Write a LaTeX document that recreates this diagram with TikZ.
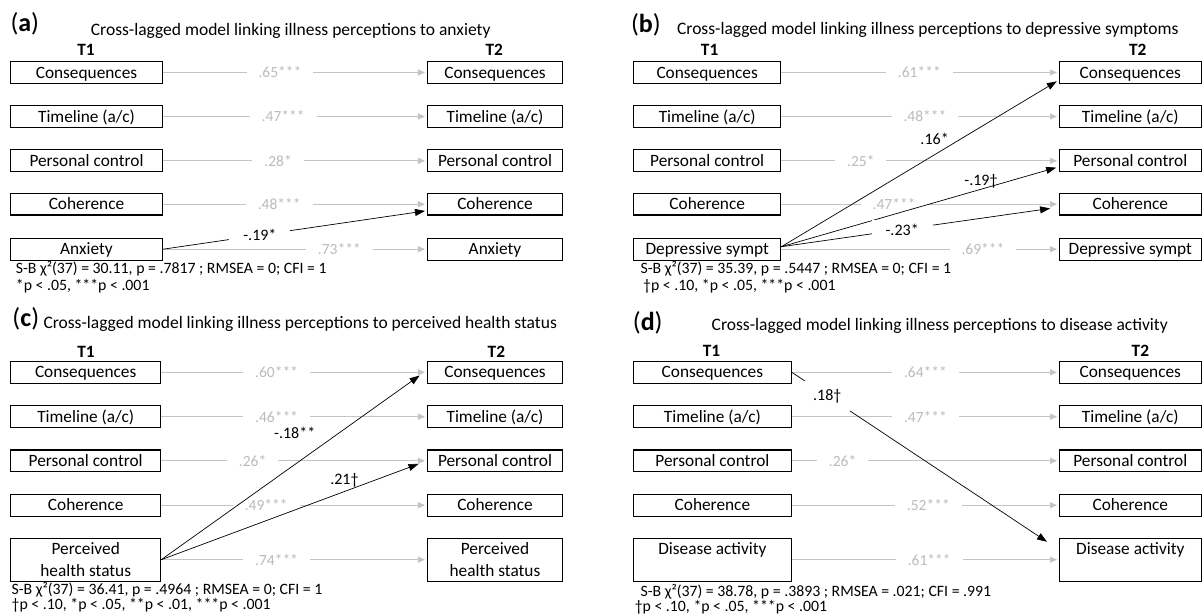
\documentclass[tikz,border=0pt]{standalone}
\usepackage{fontspec}
\setmainfont{Carlito}
\usetikzlibrary{arrows.meta}
\definecolor{lg}{HTML}{C4C4C4}
\definecolor{lgt}{HTML}{BBBBBB}
\begin{document}
\begin{tikzpicture}[x=1pt,y=-1pt,
  box/.style={draw, line width=1.1pt, inner sep=0pt, font=\fontsize{17.3}{21.7}\selectfont},
  sbox/.style={box, minimum height=21.7pt, text height=11.2pt, text depth=0pt},
  tbox/.style={box, minimum height=42.7pt, align=center},
  gline/.style={draw=lg, line width=1pt, -{Triangle[length=7pt,width=6pt]}, shorten >=2pt},
  glbl/.style={fill=white, text=lgt, inner xsep=12pt, inner ysep=1pt, font=\fontsize{15.5}{18}\selectfont},
  bline/.style={draw=black, line width=0.7pt, -{Triangle[length=10pt,width=7pt]}},
  blbl/.style={text=black, inner sep=1pt, font=\fontsize{16}{18}\selectfont},
  bglbl/.style={blbl, fill=white, inner xsep=14pt, inner ysep=4pt},
  tlbl/.style={anchor=base, inner sep=0pt, font=\bfseries\fontsize{17.3}{20}\selectfont},
  panel/.style={anchor=base west, inner sep=0pt, font=\fontsize{26}{30}\selectfont},
  ttl/.style={anchor=base west, inner sep=0pt, font=\fontsize{17.5}{20}\selectfont},
  note/.style={anchor=base west, inner sep=0pt, font=\fontsize{15.8}{18}\selectfont}]
\useasboundingbox (0,0) rectangle (1203,615);
\fill[white] (0,0) rectangle (1203,615);

%% ---------------- Panel (a)
\node[panel] (pa) at (10.3,32) {(\textbf{a})};
\node[ttl] (ta) at (90.7,35.7) {Cross-lagged model linking illness perceptions to anxiety};
\node[tlbl] (a0) at (86,55.5) {T1};
\node[tlbl] (A0) at (494.3,55.5) {T2};
\node[sbox, minimum width=152pt] (a1) at (86.5,72.5) {Consequences};
\node[sbox, minimum width=152pt] (a2) at (86.5,116.5) {Timeline (a/c)};
\node[sbox, minimum width=152pt] (a3) at (86.5,160.8) {Personal control};
\node[sbox, minimum width=152pt] (a4) at (86.5,204.2) {Coherence};
\node[sbox, minimum width=152pt] (a5) at (86.5,249.2) {Anxiety};
\node[sbox, minimum width=135pt] (A1) at (495,72.5) {Consequences};
\node[sbox, minimum width=135pt] (A2) at (495,116.5) {Timeline (a/c)};
\node[sbox, minimum width=135pt] (A3) at (495,160.8) {Personal control};
\node[sbox, minimum width=135pt] (A4) at (495,204.2) {Coherence};
\node[sbox, minimum width=135pt] (A5) at (495,249.2) {Anxiety};
\draw[gline] (a1.east) -- (A1.west) node[glbl,pos=0.443] {.65***};
\draw[gline] (a2.east) -- (A2.west) node[glbl,pos=0.455] {.47***};
\draw[gline] (a3.east) -- (A3.west) node[glbl,pos=0.436] {.28*};
\draw[gline] (a4.east) -- (A4.west) node[glbl,pos=0.44] {.48***};
\draw[gline] (a5.east) -- (A5.west) node[glbl,pos=0.668] {.73***};
\draw[bline, shorten >=2pt] (a5.east) -- ([yshift=-6.5pt]A4.west) node[bglbl,pos=0.367] {-.19*};
\node[note] (na1) at (15.7,273.3) {S-B χ²(37) = 30.11, p = .7817 ; RMSEA = 0; CFI = 1};
\node[note] (na2) at (15.7,290.7) {*p < .05, ***p < .001};

%% ---------------- Panel (b)
\node[panel] (pb) at (630.8,33) {(\textbf{b})};
\node[ttl] (tb) at (676.9,35) {Cross-lagged model linking illness perceptions to depressive symptoms};
\node[tlbl] (b0) at (709.6,55.5) {T1};
\node[tlbl] (B0) at (1137.7,55.5) {T2};
\node[sbox, minimum width=147.3pt] (b1) at (707.2,72.5) {Consequences};
\node[sbox, minimum width=147.3pt] (b2) at (707.2,116.5) {Timeline (a/c)};
\node[sbox, minimum width=147.3pt] (b3) at (707.2,160.8) {Personal control};
\node[sbox, minimum width=147.3pt] (b4) at (707.2,204.2) {Coherence};
\node[sbox, minimum width=147.3pt] (b5) at (707.2,249.2) {Depressive sympt};
\node[sbox, minimum width=141.5pt] (B1) at (1130.3,72.5) {Consequences};
\node[sbox, minimum width=141.5pt] (B2) at (1130.3,116.5) {Timeline (a/c)};
\node[sbox, minimum width=141.5pt] (B3) at (1130.3,160.8) {Personal control};
\node[sbox, minimum width=141.5pt] (B4) at (1130.3,204.2) {Coherence};
\node[sbox, minimum width=141.5pt] (B5) at (1130.3,249.2) {Depressive sympt};
\draw[gline] (b1.east) -- (B1.west) node[glbl,pos=0.497] {.61***};
\draw[gline] (b2.east) -- (B2.west) node[glbl,pos=0.517] {.48***};
\draw[gline] (b3.east) -- (B3.west) node[glbl,pos=0.286] {.25*};
\draw[gline] (b4.east) -- (B4.west) node[glbl,pos=0.406] {.47***};
\draw[gline] (b5.east) -- (B5.west) node[glbl,pos=0.726] {.69***};
\draw[bline, shorten >=2.5pt] ([yshift=2.5pt]b5.east) -- ([yshift=-7.5pt]B1.west);
\draw[bline, shorten >=3pt] ([yshift=2.5pt]b5.east) -- ([yshift=-6pt]B3.west);
\draw[bline, shorten >=9pt] ([yshift=2.5pt]b5.east) -- ([yshift=-3pt]B4.west) node[bglbl,pos=0.435] {-.23*};
\node[blbl] (lb1) at (934.6,139.3) {.16*};
\node[blbl] (lb2) at (981,181.7) {-.19†};
\node[note] (nb1) at (640.4,273.3) {S-B χ²(37) = 35.39, p = .5447 ; RMSEA = 0; CFI = 1};
\node[note] (nb2) at (643,290) {†p < .10, *p < .05, ***p < .001};

%% ---------------- Panel (c)
\node[panel] (pc) at (12.3,326) {(\textbf{c})};
\node[ttl] (tc) at (43.3,328.3) {Cross-lagged model linking illness perceptions to perceived health status};
\node[tlbl] (c0) at (86,357.5) {T1};
\node[tlbl] (C0) at (496.4,357.5) {T2};
\node[sbox, minimum width=150pt] (c1) at (85.7,372.3) {Consequences};
\node[sbox, minimum width=150pt] (c2) at (85.7,416.7) {Timeline (a/c)};
\node[sbox, minimum width=150pt] (c3) at (85.7,460.8) {Personal control};
\node[sbox, minimum width=150pt] (c4) at (85.7,505.2) {Coherence};
\node[tbox, minimum width=150pt] (c5) at (85.7,559.7) {Perceived\\health status};
\node[sbox, minimum width=135pt] (C1) at (495,372.3) {Consequences};
\node[sbox, minimum width=135pt] (C2) at (495,416.7) {Timeline (a/c)};
\node[sbox, minimum width=135pt] (C3) at (495,460.8) {Personal control};
\node[sbox, minimum width=135pt] (C4) at (495,505.2) {Coherence};
\node[tbox, minimum width=135pt] (C5) at (495,559.7) {Perceived\\health status};
\draw[gline] (c1.east) -- (C1.west) node[glbl,pos=0.434] {.60***};
\draw[gline] (c2.east) -- (C2.west) node[glbl,pos=0.434] {.46***};
\draw[gline] (c3.east) -- (C3.west) node[glbl,pos=0.344] {.26*};
\draw[gline] (c4.east) -- (C4.west) node[glbl,pos=0.395] {.49***};
\draw[gline] (c5.east) -- (C5.west) node[glbl,pos=0.434] {.74***};
\draw[bline, shorten >=9pt] (c5.east) -- ([yshift=2pt]C1.west);
\draw[bline, shorten >=9pt] (c5.east) -- (C3.west);
\node[blbl] (lc1) at (294.7,433.3) {-.18**};
\node[blbl] (lc2) at (344.4,480) {.21†};
\node[note] (nc1) at (11.5,594) {S-B χ²(37) = 36.41, p = .4964 ; RMSEA = 0; CFI = 1};
\node[note] (nc2) at (11.5,609) {†p < .10, *p < .05, **p < .01, ***p < .001};

%% ---------------- Panel (d)
\node[panel] (pd) at (632.7,330) {(\textbf{d})};
\node[ttl] (td) at (711.5,330) {Cross-lagged model linking illness perceptions to disease activity};
\node[tlbl] (d0) at (711.5,356.5) {T1};
\node[tlbl] (D0) at (1140.4,356.5) {T2};
\node[sbox, minimum width=157.7pt] (d1) at (712.4,372.3) {Consequences};
\node[sbox, minimum width=157.7pt] (d2) at (712.4,416.7) {Timeline (a/c)};
\node[sbox, minimum width=157.7pt] (d3) at (712.4,460.8) {Personal control};
\node[sbox, minimum width=157.7pt] (d4) at (712.4,505.2) {Coherence};
\node[tbox, minimum width=157.7pt] (d5) at (712.4,559.7) {Disease activity\\\mbox{}};
\node[sbox, minimum width=141.5pt] (D1) at (1130.3,372.3) {Consequences};
\node[sbox, minimum width=141.5pt] (D2) at (1130.3,416.7) {Timeline (a/c)};
\node[sbox, minimum width=141.5pt] (D3) at (1130.3,460.8) {Personal control};
\node[sbox, minimum width=141.5pt] (D4) at (1130.3,505.2) {Coherence};
\node[tbox, minimum width=141.5pt] (D5) at (1130.3,559.7) {Disease activity\\\mbox{}};
\draw[gline] (d1.east) -- (D1.west) node[glbl,pos=0.5] {.64***};
\draw[gline] (d2.east) -- (D2.west) node[glbl,pos=0.5] {.47***};
\draw[gline] (d3.east) -- (D3.west) node[glbl,pos=0.19] {.26*};
\draw[gline] (d4.east) -- (D4.west) node[glbl,pos=0.511] {.52***};
\draw[gline] (d5.east) -- (D5.west) node[glbl,pos=0.514] {.61***};
\draw[bline] (d1.east) -- ([xshift=-12pt,yshift=-4pt]D5.north west) node[bglbl,pos=0.139,inner xsep=9pt,inner ysep=8pt] {.18†};
\node[note] (nd1) at (640.4,596) {S-B χ²(37) = 38.78, p = .3893 ; RMSEA = .021; CFI = .991};
\node[note] (nd2) at (634.6,611.5) {†p < .10, *p < .05, ***p < .001};
\end{tikzpicture}
\end{document}
